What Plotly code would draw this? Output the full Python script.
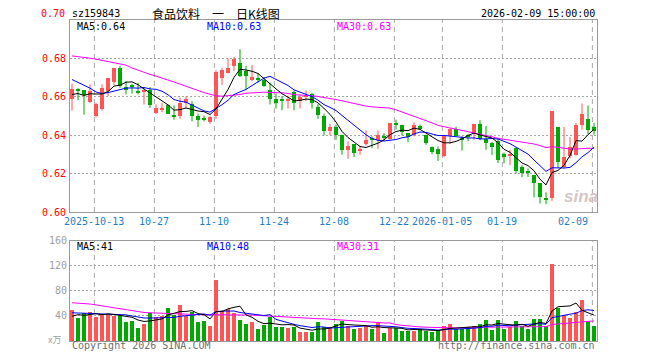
import plotly.graph_objects as go

# ---------------- data ----------------
label_idx = [4, 14, 24, 34, 44, 54, 62, 72, 87]
label_txt = ['2025-10-13', '10-27', '11-10', '11-24', '12-08', '12-22', '2026-01-05', '01-19', '02-09']

opens = [0.6586, 0.6642, 0.6633, 0.6574, 0.6502, 0.6534, 0.6630, 0.6677, 0.6748, 0.6652,
         0.6658, 0.6630, 0.6630, 0.6633, 0.6516, 0.6534, 0.6555, 0.6501, 0.6499, 0.6569,
         0.6563, 0.6502, 0.6484, 0.6467, 0.6499, 0.6700, 0.6726, 0.6761, 0.6775, 0.6735,
         0.6687, 0.6693, 0.6686, 0.6633, 0.6586, 0.6582, 0.6581, 0.6626, 0.6577, 0.6600,
         0.6616, 0.6546, 0.6502, 0.6424, 0.6443, 0.6403, 0.6324, 0.6354, 0.6320, 0.6354,
         0.6382, 0.6376, 0.6392, 0.6380, 0.6462, 0.6455, 0.6411, 0.6399, 0.6450, 0.6403,
         0.6336, 0.6327, 0.6294, 0.6395, 0.6434, 0.6384, 0.6396, 0.6409, 0.6457, 0.6381,
         0.6359, 0.6372, 0.6301, 0.6296, 0.6333, 0.6235, 0.6214, 0.6191, 0.6150, 0.6069,
         0.6073, 0.6443, 0.6237, 0.6293, 0.6298, 0.6455, 0.6486, 0.6443]
highs = [0.6668, 0.6645, 0.6635, 0.6665, 0.6569, 0.6665, 0.6696, 0.6748, 0.6761, 0.6682,
         0.6668, 0.6673, 0.6642, 0.6651, 0.6560, 0.6569, 0.6560, 0.6555, 0.6595, 0.6603,
         0.6577, 0.6513, 0.6502, 0.6502, 0.6738, 0.6752, 0.6801, 0.6808, 0.6848, 0.6761,
         0.6766, 0.6721, 0.6703, 0.6673, 0.6616, 0.6603, 0.6607, 0.6633, 0.6612, 0.6633,
         0.6621, 0.6563, 0.6513, 0.6458, 0.6455, 0.6403, 0.6368, 0.6354, 0.6345, 0.6425,
         0.6394, 0.6425, 0.6411, 0.6464, 0.6481, 0.6455, 0.6411, 0.6467, 0.6455, 0.6403,
         0.6341, 0.6341, 0.6395, 0.6434, 0.6444, 0.6395, 0.6404, 0.6457, 0.6478, 0.6448,
         0.6365, 0.6380, 0.6310, 0.6324, 0.6336, 0.6244, 0.6227, 0.6191, 0.6150, 0.6103,
         0.6527, 0.6443, 0.6443, 0.6390, 0.6464, 0.6565, 0.6555, 0.6464]
lows = [0.6528, 0.6583, 0.6507, 0.6569, 0.6493, 0.6528, 0.6603, 0.6659, 0.6647, 0.6612,
        0.6616, 0.6612, 0.6560, 0.6542, 0.6511, 0.6520, 0.6513, 0.6481, 0.6485, 0.6542,
        0.6472, 0.6443, 0.6472, 0.6460, 0.6485, 0.6661, 0.6721, 0.6735, 0.6703, 0.6638,
        0.6682, 0.6673, 0.6652, 0.6560, 0.6539, 0.6530, 0.6539, 0.6530, 0.6539, 0.6577,
        0.6539, 0.6485, 0.6399, 0.6399, 0.6376, 0.6298, 0.6277, 0.6286, 0.6298, 0.6345,
        0.6333, 0.6329, 0.6371, 0.6376, 0.6429, 0.6399, 0.6364, 0.6394, 0.6429, 0.6350,
        0.6301, 0.6266, 0.6285, 0.6354, 0.6395, 0.6320, 0.6368, 0.6376, 0.6373, 0.6324,
        0.6297, 0.6255, 0.6253, 0.6244, 0.6200, 0.6182, 0.6182, 0.6076, 0.6044, 0.6041,
        0.6058, 0.6228, 0.6228, 0.6280, 0.6293, 0.6429, 0.6403, 0.6403]
closes = [0.6642, 0.6633, 0.6607, 0.6630, 0.6560, 0.6644, 0.6696, 0.6748, 0.6656, 0.6635,
          0.6655, 0.6621, 0.6638, 0.6556, 0.6542, 0.6542, 0.6513, 0.6499, 0.6569, 0.6586,
          0.6499, 0.6478, 0.6481, 0.6495, 0.6729, 0.6738, 0.6748, 0.6796, 0.6708, 0.6708,
          0.6705, 0.6690, 0.6656, 0.6586, 0.6569, 0.6581, 0.6590, 0.6569, 0.6598, 0.6603,
          0.6569, 0.6504, 0.6424, 0.6443, 0.6403, 0.6324, 0.6345, 0.6307, 0.6327, 0.6376,
          0.6380, 0.6403, 0.6390, 0.6464, 0.6458, 0.6417, 0.6390, 0.6455, 0.6432, 0.6359,
          0.6315, 0.6301, 0.6395, 0.6432, 0.6395, 0.6380, 0.6392, 0.6457, 0.6381, 0.6359,
          0.6338, 0.6271, 0.6285, 0.6301, 0.6214, 0.6205, 0.6204, 0.6150, 0.6080, 0.6067,
          0.6527, 0.6258, 0.6284, 0.6336, 0.6455, 0.6513, 0.6425, 0.6424]
volumes = [50.5, 36.8, 45, 47, 38.4, 42.6, 43.7, 40, 41, 31.5,
           33, 22, 28.4, 45, 39.5, 41, 53.7, 42, 58.4, 41,
           47, 30.5, 33, 25, 98, 49, 51.5, 44.7, 34.7, 28.4,
           30, 19, 26.3, 38.4, 22.6, 22.6, 21, 22.6, 14.2, 14.2,
           14.2, 30.5, 22.6, 22.6, 28.4, 32, 25, 19, 21.6, 25,
           19, 29, 12.6, 22, 21, 16.3, 16.8, 15.8, 19, 16.8,
           14.2, 18, 23.7, 28.4, 19, 19, 22.6, 24.7, 28.4, 34.7,
           17.4, 34.7, 19, 22.6, 32.6, 24.2, 19, 36.3, 36, 24,
           124, 53, 42, 37, 47, 66, 33, 24]

# moving-average values before the window has enough days
ma5_head = [0.6612, 0.6617, 0.6607, 0.6616]
ma10_head = [0.6690, 0.6675, 0.6660, 0.6645, 0.6625, 0.6617, 0.6622, 0.6630, 0.6637]
ma30_head = [0.6813, 0.6810, 0.6806, 0.6801, 0.6796, 0.6790, 0.6783, 0.6775, 0.6769, 0.6765,
             0.6750, 0.6738, 0.6727, 0.6717, 0.6708, 0.6696, 0.6687, 0.6677, 0.6665, 0.6655,
             0.6645, 0.6633, 0.6622, 0.6612, 0.6605, 0.6603, 0.6605, 0.6608, 0.6612]
vma5_head = [39.5, 42, 41, 42.6]
vma10_head = [45, 45, 44.5, 44, 43.5, 43, 42.5, 42, 41.5]
vma30_head = [61, 60.5, 60, 59, 57.5, 56, 54.5, 53, 51.5, 50,
              48, 46.5, 45.5, 45, 44.8, 44.5, 44.2, 44, 43.5, 43,
              42.5, 42, 42, 41.8, 41.5, 41.5, 41.5, 41.5, 41.5]


def moving(vals, n, head):
    out = list(head)
    for i in range(len(head), len(vals)):
        out.append(sum(vals[i - n + 1:i + 1]) / n)
    return out


N = len(closes)
idx = list(range(N))
ma5 = moving(closes, 5, ma5_head)
ma10 = moving(closes, 10, ma10_head)
ma30 = moving(closes, 30, ma30_head)
vma5 = moving(volumes, 5, vma5_head)
vma10 = moving(volumes, 10, vma10_head)
vma30 = moving(volumes, 30, vma30_head)

RED = '#FF5555'
GREEN = '#00A800'
MONO = 'DejaVu Sans Mono'

up = [c >= o for o, c in zip(opens, closes)]
colors = [RED if u else GREEN for u in up]

# geometry helpers (pixel -> paper)
L, R, T, B = 70, 63, 20, 19
W, H = 660, 360
PW, PH = W - L - R, H - T - B


def px(x):
    return (x - L) / PW


def py(y):
    return (H - B - y) / PH


main_dom = [py(212), 1.0]
vol_dom = [0.0, py(240.7)]

fig = go.Figure()

# wicks
for want, col in ((True, RED), (False, GREEN)):
    xs, ys = [], []
    for i in idx:
        if up[i] == want:
            xs += [i, i, None]
            ys += [lows[i], highs[i], None]
    fig.add_trace(go.Scatter(x=xs, y=ys, mode='lines', line=dict(color=col, width=1),
                             xaxis='x', yaxis='y', hoverinfo='skip', showlegend=False))

# bodies
body_base = [min(o, c) for o, c in zip(opens, closes)]
body_h = [max(abs(c - o), 0.0005) for o, c in zip(opens, closes)]
fig.add_trace(go.Bar(x=idx, y=body_h, base=body_base, width=0.8,
                     marker=dict(color=colors, line=dict(width=0)),
                     xaxis='x', yaxis='y', showlegend=False))

# price MAs
for series, col in ((ma30, '#FF00FF'), (ma10, '#0000FF'), (ma5, '#000000')):
    fig.add_trace(go.Scatter(x=idx, y=series, mode='lines', line=dict(color=col, width=1),
                             xaxis='x', yaxis='y', showlegend=False))

# volume
fig.add_trace(go.Bar(x=idx, y=volumes, width=0.82,
                     marker=dict(color=colors, line=dict(width=0)),
                     xaxis='x2', yaxis='y2', showlegend=False))
for series, col in ((vma30, '#FF00FF'), (vma10, '#0000FF'), (vma5, '#000000')):
    fig.add_trace(go.Scatter(x=idx, y=series, mode='lines', line=dict(color=col, width=1),
                             xaxis='x2', yaxis='y2', showlegend=False))

xr = [(L - 72) / 6, (W - R - 72) / 6]
axis_common = dict(showline=True, mirror=True, linecolor='#9A9A9A', linewidth=1,
                   zeroline=False, fixedrange=True)

shapes = []
for i in label_idx:
    for dom in (main_dom, vol_dom):
        shapes.append(dict(type='line', xref='x', yref='paper', x0=i - 0.27, x1=i - 0.27,
                           y0=dom[0], y1=dom[1], layer='below',
                           line=dict(color='#AAAAAA', width=1, dash='5px,4px')))

ann = []


def text(x, y, s, color='#000000', size=10, anchor='left', family=MONO, **kw):
    ann.append(dict(xref='paper', yref='paper', x=px(x), y=py(y), text=s, showarrow=False,
                    xanchor=anchor, yanchor='middle',
                    font=dict(family=family, size=size, color=color), **kw))


text(70, 13, 'sz159843')
text(150, 13, '食品饮料\u3000一\u3000日K线图', size=12, family='Noto Sans CJK SC')
text(597, 13, '2026-02-09 15:00:00', anchor='right')
text(67, 13, '0.70', color='#FF0000', anchor='right')
text(75, 26, 'MA5:0.64')
text(205, 26, 'MA10:0.63', color='#0000FF')
text(335, 26, 'MA30:0.63', color='#FF00FF')
text(75, 246, 'MA5:41')
text(205, 246, 'MA10:48', color='#0000FF')
text(335, 246, 'MA30:31', color='#FF00FF')
text(63, 339, 'x万', color='#A0A0A0', size=9, anchor='right', family='Noto Sans CJK SC')
text(70, 346, 'Copyright 2026 SINA.COM', color='#707070')
text(597, 346, 'http://finance.sina.com.cn', color='#707070', anchor='right')
text(581, 197, '<b><i>sina</i></b>', color='#D6C6C6', size=17, anchor='center', family='Arial')

for i, s in zip(label_idx, label_txt):
    xpix = 72 + 6 * i - 1.6
    if i == label_idx[-1]:
        text(590, 221, s, color='#1F7FC6', anchor='right')
    else:
        text(xpix, 221, s, color='#1F7FC6', anchor='center')

fig.update_layout(
    width=W, height=H, margin=dict(l=L, r=R, t=T, b=B),
    paper_bgcolor='white', plot_bgcolor='white',
    barmode='overlay', bargap=0, showlegend=False,
    xaxis=dict(domain=[0, 1], anchor='y', range=xr, showgrid=False, showticklabels=False,
               **axis_common),
    xaxis2=dict(domain=[0, 1], anchor='y2', range=xr, showgrid=False, showticklabels=False,
                **axis_common),
    yaxis=dict(domain=main_dom, anchor='x', range=[0.60, 0.70],
               tickvals=[0.60, 0.62, 0.64, 0.66, 0.68, 0.70],
               ticktext=['0.60', '0.62', '0.64', '0.66', '0.68', ''],
               tickfont=dict(family=MONO, size=10, color='#FF0000'),
               showgrid=True, gridcolor='#A8A8A8', griddash='2px,2px', gridwidth=1,
               ticks='', ticklabelstandoff=1, **axis_common),
    yaxis2=dict(domain=vol_dom, anchor='x2', range=[0, 160],
                tickvals=[40, 80, 120, 160], ticktext=['40', '80', '120', '160'],
                tickfont=dict(family=MONO, size=10, color='#A0A0A0'),
                showgrid=True, gridcolor='#A8A8A8', griddash='2px,2px', gridwidth=1,
                ticks='', ticklabelstandoff=0, **axis_common),
    shapes=shapes, annotations=ann,
)

fig.write_html('out.html', config={'displayModeBar': False},
               post_script="document.body.style.margin='0px';document.body.style.overflow='hidden';")
